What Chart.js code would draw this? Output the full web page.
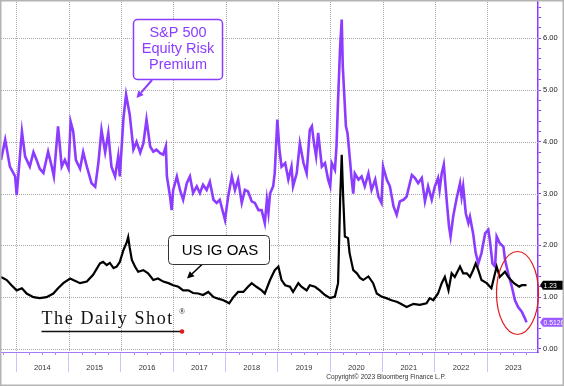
<!DOCTYPE html>
<html>
<head>
<meta charset="utf-8">
<script src="https://cdn.jsdelivr.net/npm/chart.js@4.4.0/dist/chart.umd.min.js"></script>
<style>
  html, body { margin: 0; padding: 0; background: #fff; }
  #wrap { width: 564px; height: 386px; }
</style>
</head>
<body>
<div id="wrap"><canvas id="myChart" width="564" height="386"></canvas></div>
<script>
// S&P 500 equity risk premium (decimal years / percent)
const erpT = [
  2013.71,2013.79,2013.88,2013.98,2014.01,2014.11,2014.17,2014.26,2014.33,2014.39,
  2014.45,2014.52,2014.61,2014.68,2014.72,2014.80,2014.87,2014.93,2015.00,2015.04,
  2015.09,2015.14,2015.22,2015.28,2015.35,2015.44,2015.51,2015.57,2015.63,2015.70,
  2015.76,2015.82,2015.89,2015.95,2015.98,2016.05,2016.10,2016.17,2016.24,2016.30,
  2016.37,2016.43,2016.49,2016.56,2016.62,2016.68,2016.75,2016.81,2016.86,2016.88,
  2016.94,2016.97,2017.00,2017.07,2017.13,2017.19,2017.26,2017.32,2017.38,2017.45,
  2017.51,2017.57,2017.64,2017.70,2017.77,2017.83,2017.89,2017.99,2018.05,2018.12,
  2018.18,2018.24,2018.31,2018.37,2018.43,2018.50,2018.56,2018.63,2018.69,2018.75,
  2018.79,2018.82,2018.85,2018.91,2018.94,2018.99,2019.03,2019.07,2019.14,2019.20,
  2019.26,2019.29,2019.36,2019.42,2019.49,2019.55,2019.61,2019.65,2019.69,2019.73,
  2019.77,2019.84,2019.90,2019.96,2020.00,2020.03,2020.09,2020.12,2020.15,2020.19,
  2020.22,2020.24,2020.26,2020.30,2020.33,2020.36,2020.41,2020.44,2020.47,2020.54,
  2020.60,2020.66,2020.73,2020.79,2020.86,2020.92,2020.98,2021.01,2021.08,2021.14,
  2021.21,2021.27,2021.33,2021.40,2021.46,2021.49,2021.56,2021.62,2021.68,2021.75,
  2021.78,2021.81,2021.87,2021.94,2022.00,2022.06,2022.09,2022.13,2022.17,2022.23,
  2022.27,2022.30,2022.35,2022.41,2022.48,2022.51,2022.54,2022.59,2022.64,2022.67,
  2022.73,2022.78,2022.83,2022.89,2022.96,2023.02,2023.05,2023.10,2023.15,2023.18,
  2023.24,2023.31,2023.34,2023.40,2023.47,2023.53,2023.59,2023.66,2023.72,2023.75
];
const erpV = [
  3.65,4.04,3.52,3.33,2.97,4.20,3.72,3.52,3.80,3.65,
  3.48,3.40,3.81,3.52,3.33,4.30,3.52,3.65,3.48,4.39,
  4.20,3.65,3.48,3.80,3.52,3.20,3.13,3.59,4.23,3.80,
  4.17,3.52,3.33,3.72,3.33,4.46,4.91,4.52,3.85,4.00,
  3.79,3.97,4.43,3.91,3.81,3.85,3.78,3.75,3.91,3.33,
  2.94,2.68,3.07,3.33,3.07,2.88,3.20,3.33,3.01,3.14,
  3.01,3.17,3.07,3.23,2.88,2.82,2.88,2.49,2.94,3.33,
  3.07,3.27,2.82,3.07,3.04,2.85,2.82,2.68,2.68,2.43,
  2.88,2.63,3.00,3.14,3.40,4.43,3.85,3.52,3.59,3.27,
  3.52,3.14,3.39,3.97,3.59,3.39,4.23,4.30,3.97,3.72,
  4.17,3.52,3.59,3.27,3.14,3.59,3.46,3.91,4.81,5.84,
  6.36,5.46,5.07,4.30,4.17,3.85,3.27,3.00,3.39,3.27,
  3.33,3.14,3.39,3.07,3.27,2.94,2.82,3.52,3.27,3.14,
  2.75,2.59,2.85,2.88,2.94,3.07,3.36,3.30,3.20,3.30,
  3.07,2.85,3.14,2.88,3.14,3.30,3.07,3.39,3.56,2.81,
  2.36,2.17,2.56,2.88,3.20,2.94,3.14,2.62,2.43,2.55,
  2.23,1.85,1.65,1.85,2.23,2.30,2.10,1.65,1.59,2.17,
  2.04,1.97,1.72,1.46,1.20,0.94,0.81,0.72,0.59,0.5126
];

// US IG option-adjusted spread
const oasT = [
  2013.71,2013.82,2013.91,2014.01,2014.11,2014.20,2014.33,2014.45,2014.58,2014.71,
  2014.80,2014.90,2015.03,2015.09,2015.22,2015.35,2015.47,2015.60,2015.66,2015.73,
  2015.79,2015.86,2015.92,2015.98,2016.05,2016.11,2016.14,2016.17,2016.21,2016.27,
  2016.33,2016.43,2016.52,2016.62,2016.71,2016.81,2016.91,2017.00,2017.10,2017.19,
  2017.29,2017.38,2017.48,2017.57,2017.67,2017.77,2017.86,2017.96,2018.07,2018.15,
  2018.24,2018.34,2018.43,2018.50,2018.59,2018.69,2018.75,2018.85,2018.94,2019.01,
  2019.07,2019.14,2019.23,2019.29,2019.39,2019.45,2019.55,2019.61,2019.71,2019.80,
  2019.90,2020.00,2020.09,2020.15,2020.19,2020.22,2020.25,2020.28,2020.34,2020.37,
  2020.44,2020.51,2020.57,2020.63,2020.73,2020.82,2020.89,2020.98,2021.07,2021.17,
  2021.27,2021.33,2021.46,2021.59,2021.71,2021.84,2021.90,2021.97,2022.06,2022.13,
  2022.19,2022.26,2022.32,2022.38,2022.48,2022.54,2022.61,2022.67,2022.73,2022.78,
  2022.83,2022.89,2022.99,2023.08,2023.18,2023.24,2023.34,2023.40,2023.51,2023.61,
  2023.66,2023.75
];
const oasV = [
  1.39,1.33,1.23,1.13,1.17,1.07,1.00,0.98,1.00,1.07,
  1.17,1.27,1.36,1.33,1.27,1.30,1.43,1.65,1.68,1.62,
  1.66,1.56,1.59,1.68,1.91,2.05,2.16,1.95,1.72,1.59,
  1.49,1.52,1.46,1.33,1.36,1.30,1.27,1.23,1.20,1.13,
  1.13,1.08,1.07,1.04,1.10,1.00,0.97,0.94,0.88,1.00,
  1.10,1.10,1.20,1.27,1.20,1.13,1.07,1.33,1.52,1.59,
  1.33,1.23,1.20,1.10,1.27,1.20,1.13,1.23,1.20,1.13,
  1.04,0.98,1.01,1.27,2.88,3.75,2.88,2.17,2.14,1.85,
  1.52,1.46,1.37,1.33,1.40,1.27,1.07,1.01,0.98,0.94,
  0.91,0.88,0.81,0.87,0.85,0.88,0.98,0.94,1.07,1.27,
  1.39,1.13,1.46,1.39,1.59,1.46,1.46,1.39,1.52,1.65,
  1.52,1.33,1.27,1.17,1.59,1.39,1.49,1.39,1.27,1.20,
  1.23,1.23
];

const years = [2014, 2015, 2016, 2017, 2018, 2019, 2020, 2021, 2022, 2023];
const yTicks = [0, 1, 2, 3, 4, 5, 6];

const PURPLE = '#8c3cff';
const GRID = '#a8a8a8';
const CLEAR = 'rgba(0,0,0,0)';
const FONT = '"Liberation Sans", Arial, sans-serif';

const isWhole = c => !!c.tick && Number.isInteger(c.tick.value);

// dotted grid at whole years and whole percents, under the lines
const dottedGrid = {
  id: 'dottedGrid',
  beforeDatasetsDraw(chart) {
    const ctx = chart.ctx, a = chart.chartArea;
    const xs = chart.scales.x, ys = chart.scales.y;
    ctx.save();
    ctx.strokeStyle = GRID;
    ctx.lineWidth = 1;
    ctx.setLineDash([1, 1]);
    years.forEach(yr => {
      const px = Math.round(xs.getPixelForValue(yr)) + 0.5;
      ctx.beginPath(); ctx.moveTo(px, a.top); ctx.lineTo(px, a.bottom); ctx.stroke();
    });
    yTicks.forEach(v => {
      const py = Math.round(ys.getPixelForValue(v)) + 0.5;
      ctx.beginPath(); ctx.moveTo(a.left, py); ctx.lineTo(a.right, py); ctx.stroke();
    });
    ctx.restore();
  }
};

// annotations, logo, value tags and frame
const decor = {
  id: 'decor',
  afterDraw(chart) {
    const ctx = chart.ctx;
    const xs = chart.scales.x, ys = chart.scales.y;
    const area = chart.chartArea;
    ctx.save();

    // quarterly minor ticks under the x axis line
    ctx.strokeStyle = '#b08cf7';
    ctx.lineWidth = 1;
    for (let q = years[0] - 0.25; q < xs.max; q += 0.25) {
      if (Number.isInteger(q)) continue;
      const px = Math.round(xs.getPixelForValue(q)) + 0.5;
      ctx.beginPath(); ctx.moveTo(px, area.bottom); ctx.lineTo(px, area.bottom + 3); ctx.stroke();
    }

    function arrow(x1, y1, x2, y2, color, w) {
      const a = Math.atan2(y2 - y1, x2 - x1), L = 7, H = 3.5;
      ctx.strokeStyle = color; ctx.fillStyle = color; ctx.lineWidth = w;
      ctx.beginPath(); ctx.moveTo(x1, y1);
      ctx.lineTo(x2 - L * Math.cos(a), y2 - L * Math.sin(a)); ctx.stroke();
      ctx.beginPath(); ctx.moveTo(x2, y2);
      ctx.lineTo(x2 - L * Math.cos(a) + H * Math.sin(a), y2 - L * Math.sin(a) - H * Math.cos(a));
      ctx.lineTo(x2 - L * Math.cos(a) - H * Math.sin(a), y2 - L * Math.sin(a) + H * Math.cos(a));
      ctx.closePath(); ctx.fill();
    }
    function box(x, y, w, h, stroke, lw) {
      ctx.beginPath(); ctx.roundRect(x, y, w, h, 4);
      ctx.fillStyle = '#fff'; ctx.fill();
      ctx.strokeStyle = stroke; ctx.lineWidth = lw; ctx.stroke();
    }

    // ERP callout
    arrow(152, 80, 136.5, 98, PURPLE, 2);
    box(133.5, 19.5, 89, 60, PURPLE, 1.5);
    ctx.fillStyle = PURPLE; ctx.font = '14.5px ' + FONT;
    ctx.textAlign = 'center'; ctx.textBaseline = 'middle';
    ctx.fillText('S&P 500', 178, 33);
    ctx.fillText('Equity Risk', 178, 49);
    ctx.fillText('Premium', 178, 65);

    // OAS callout
    arrow(202, 264.5, 187, 278.5, '#000', 1.6);
    box(168.5, 235.5, 101, 29, '#333', 1);
    ctx.fillStyle = '#000'; ctx.font = '15px ' + FONT;
    ctx.fillText('US IG OAS', 220, 250.5);

    // red ellipse
    ctx.strokeStyle = '#e0191b'; ctx.lineWidth = 1.2;
    ctx.beginPath(); ctx.ellipse(517.5, 293, 21, 41.5, 0, 0, Math.PI * 2); ctx.stroke();

    // logo
    ctx.fillStyle = '#111'; ctx.textAlign = 'left'; ctx.textBaseline = 'alphabetic';
    ctx.font = '18px "Liberation Serif", "Times New Roman", serif';
    ctx.letterSpacing = '1.6px';
    ctx.fillText('The Daily Shot', 41.5, 323.5);
    ctx.letterSpacing = '0px';
    ctx.font = '8px "Liberation Serif", serif';
    ctx.fillText('®', 179, 314);
    ctx.strokeStyle = '#111'; ctx.lineWidth = 1.3;
    ctx.beginPath(); ctx.moveTo(41.5, 331.5); ctx.lineTo(181, 331.5); ctx.stroke();
    ctx.fillStyle = '#e0191b';
    ctx.beginPath(); ctx.arc(182, 331.5, 2.3, 0, Math.PI * 2); ctx.fill();

    // last-value tags on the right axis
    function tag(val, text, bg) {
      const py = ys.getPixelForValue(val);
      ctx.fillStyle = bg;
      ctx.beginPath();
      ctx.moveTo(540, py); ctx.lineTo(543, py - 4.5); ctx.lineTo(564, py - 4.5);
      ctx.lineTo(564, py + 4.5); ctx.lineTo(543, py + 4.5); ctx.closePath(); ctx.fill();
      ctx.fillStyle = '#fff'; ctx.font = '6.8px ' + FONT;
      ctx.textAlign = 'left'; ctx.textBaseline = 'middle';
      ctx.fillText(text, 543.5, py + 0.5);
    }
    const lastOas = oasV[oasV.length - 1], lastErp = erpV[erpV.length - 1];
    tag(lastOas, lastOas.toFixed(2), '#000');
    tag(lastErp, String(lastErp), '#9a5cff');

    // copyright
    ctx.fillStyle = '#333'; ctx.font = '6.5px ' + FONT;
    ctx.textAlign = 'center'; ctx.textBaseline = 'middle';
    ctx.fillText('Copyright\u00A9 2023 Bloomberg Finance L.P.', 386, 377.5);

    // outer frame
    ctx.strokeStyle = '#b4b4b4'; ctx.lineWidth = 1.5;
    ctx.strokeRect(0.75, 0.75, 562.5, 384.5);
    ctx.restore();
  }
};

const ctx = document.getElementById('myChart').getContext('2d');

const data = {
  datasets: [
    {
      label: 'US IG OAS',
      data: oasT.map((t, i) => ({ x: t, y: oasV[i] })),
      borderColor: '#000',
      borderWidth: 2.2,
      pointRadius: 0,
      tension: 0
    },
    {
      label: 'S&P 500 Equity Risk Premium',
      data: erpT.map((t, i) => ({ x: t, y: erpV[i] })),
      borderColor: PURPLE,
      borderWidth: 2.6,
      pointRadius: 0,
      tension: 0
    }
  ]
};

const config = {
  type: 'line',
  data: data,
  options: {
    responsive: false,
    animation: false,
    layout: { padding: { left: 1, top: 2, right: 0, bottom: 0 } },
    plugins: {
      legend: { display: false },
      tooltip: { enabled: false }
    },
    scales: {
      x: {
        type: 'linear',
        min: 2013.71,
        max: 2023.97,
        afterBuildTicks: s => {
          s.ticks = [];
          years.forEach(y => { s.ticks.push({ value: y }); s.ticks.push({ value: y + 0.5 }); });
        },
        afterFit: s => { s.height = 34; s.paddingLeft = 0; s.paddingRight = 0; },
        grid: {
          drawOnChartArea: false,
          tickLength: 20,
          tickWidth: 1,
          tickColor: c => isWhole(c) ? '#d2c0f8' : CLEAR
        },
        border: { display: true, color: '#a57af6', width: 1 },
        ticks: {
          autoSkip: false,
          maxRotation: 0,
          padding: -9,
          color: '#333',
          font: { family: FONT, size: 7.5 },
          callback: v => Number.isInteger(v) ? '' : String(Math.floor(v))
        }
      },
      y: {
        position: 'right',
        min: -0.06,
        max: 6.7,
        afterBuildTicks: s => {
          s.ticks = [];
          for (let i = 0; i <= 33; i++) s.ticks.push({ value: i / 5 });
        },
        afterFit: s => { s.width = 26; s.paddingTop = 0; s.paddingBottom = 0; },
        grid: {
          drawOnChartArea: false,
          tickLength: 3,
          tickColor: PURPLE
        },
        border: { display: true, color: PURPLE, width: 1.5 },
        ticks: {
          autoSkip: false,
          padding: 2,
          color: '#222',
          font: { family: FONT, size: 7.5 },
          callback: v => yTicks.includes(v) ? v.toFixed(2) : ''
        }
      }
    }
  },
  plugins: [dottedGrid, decor]
};

const mychart = new Chart(ctx, config);
</script>
</body>
</html>
